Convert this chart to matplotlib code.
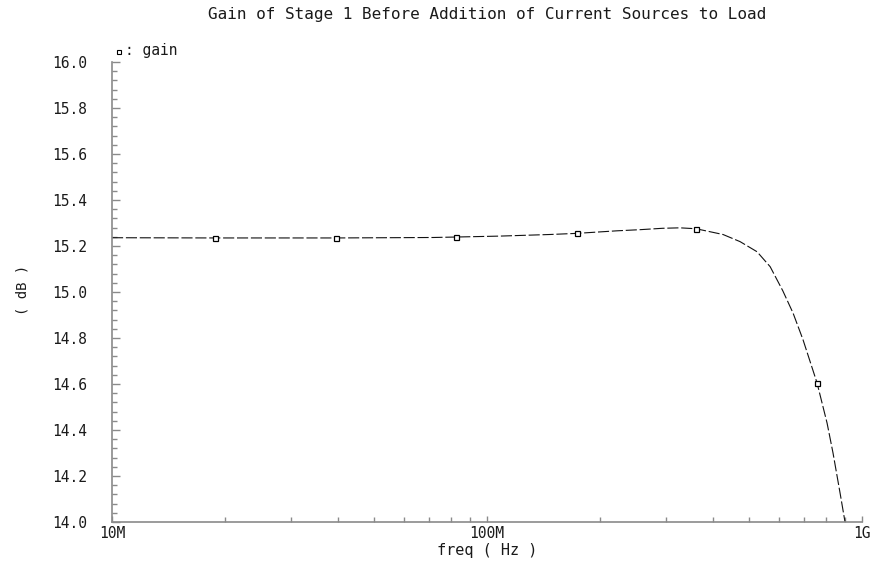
import matplotlib
matplotlib.use("Agg")
import matplotlib.pyplot as plt
from matplotlib.ticker import FixedLocator, LogLocator, NullFormatter, MultipleLocator

# ---- data ----
freq_hz = [1.0e7, 1.88e7, 3.96e7, 7.2e7, 8.26e7, 1.08e8, 1.47e8, 1.74e8, 2.22e8,
           2.56e8, 2.94e8, 3.27e8, 3.61e8, 4.26e8, 4.73e8, 5.25e8, 5.69e8, 6.15e8,
           6.55e8, 6.96e8, 7.59e8, 8.07e8, 8.37e8, 8.74e8, 9.01e8]
gain_db = [15.236, 15.235, 15.235, 15.237, 15.239, 15.243, 15.250, 15.255, 15.266,
           15.271, 15.277, 15.279, 15.275, 15.250, 15.219, 15.175, 15.110, 15.005,
           14.908, 14.793, 14.604, 14.430, 14.300, 14.126, 14.000]
marker_freq = [1.88e7, 3.96e7, 8.26e7, 1.74e8, 3.61e8, 7.59e8]
marker_gain = [15.235, 15.235, 15.239, 15.255, 15.275, 14.604]

x_ticks = [1e7, 1e8, 1e9]
x_tick_labels = ["10M", "100M", "1G"]
y_ticks = [14.0, 14.2, 14.4, 14.6, 14.8, 15.0, 15.2, 15.4, 15.6, 15.8, 16.0]
y_tick_labels = ["14.0", "14.2", "14.4", "14.6", "14.8", "15.0", "15.2", "15.4",
                 "15.6", "15.8", "16.0"]

title = "Gain of Stage 1 Before Addition of Current Sources to Load"
x_label = "freq ( Hz )"
y_label = "( dB )"
series_name = ": gain"

plt.rcParams['font.family'] = ['DejaVu Sans Mono', 'DejaVu Sans']
W, H = 877, 567
fig = plt.figure(figsize=(W / 100, H / 100), dpi=100)
ax = fig.add_axes([112 / W, 1 - 522 / H, (862 - 112) / W, (522 - 62) / H])

txt = '#1a1a1a'
axcol = '#8a8a8a'

ax.plot(freq_hz, gain_db, color='#111111', lw=0.8, dashes=(10, 2.5))
ax.plot(marker_freq, marker_gain, ls='none', marker='s', ms=3.6,
        mfc='white', mec='black', mew=0.9)

ax.set_xscale('log')
ax.set_xlim(1e7, 1e9)
ax.set_ylim(14.0, 16.0)

ax.xaxis.set_major_locator(FixedLocator(x_ticks))
ax.set_xticklabels(x_tick_labels)
ax.xaxis.set_minor_locator(LogLocator(base=10, subs=[2, 3, 4, 5, 6, 7, 8, 9]))
ax.xaxis.set_minor_formatter(NullFormatter())
ax.yaxis.set_major_locator(FixedLocator(y_ticks))
ax.set_yticklabels(y_tick_labels)
ax.yaxis.set_minor_locator(MultipleLocator(0.04))

for s in ['top', 'right']:
    ax.spines[s].set_visible(False)
for s in ['left', 'bottom']:
    ax.spines[s].set_color(axcol)
    ax.spines[s].set_linewidth(1.2)

ax.tick_params(axis='both', which='both', direction='in', color=axcol, width=1.0,
               labelcolor=txt, labelsize=10.5)
ax.tick_params(axis='y', which='major', length=6, pad=18)
ax.tick_params(axis='y', which='minor', length=3.5)
ax.tick_params(axis='x', which='major', length=4, pad=3)
ax.tick_params(axis='x', which='minor', length=3.5)

fig.text(487 / W, 1 - 14 / H, title, ha='center', va='center', fontsize=11.5, color=txt)
fig.text(487 / W, 1 - 551 / H, x_label, ha='center', va='center', fontsize=11, color=txt)
fig.text(22 / W, 1 - 290 / H, y_label, ha='center', va='center', rotation=90,
         fontsize=10, color=txt)

# legend
ax.plot([0.009], [1.022], transform=ax.transAxes, marker='s', ms=3, mfc='white',
        mec='black', mew=0.8, ls='none', clip_on=False)
ax.text(0.017, 1.025, series_name, transform=ax.transAxes, ha='left', va='center',
        fontsize=10.5, color=txt)

fig.savefig('out.png', dpi=100)
